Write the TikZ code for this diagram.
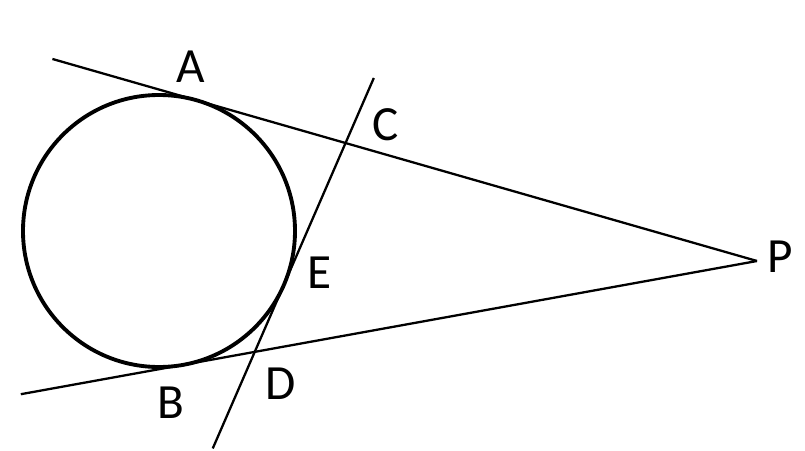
\documentclass[tikz,border=0pt]{standalone}
\usepackage{fontspec}
\setmainfont{Carlito}
\usetikzlibrary{calc}

\begin{document}
\begin{tikzpicture}[lbl/.style={font=\fontsize{14}{16}\selectfont, inner sep=0pt}]
 \useasboundingbox (0,0) rectangle (8.05,-4.5);

 \node[circle, draw, line width=1.1pt, minimum size=2.72cm, inner sep=0pt, outer sep=0pt] (c) at (1.59,-2.31) {};
 \coordinate (P) at (7.57,-2.61);

 \coordinate (A) at (tangent cs:node=c,point={(P)},solution=1);
 \coordinate (B) at (tangent cs:node=c,point={(P)},solution=2);
 \coordinate (E) at ($(c.center)+(-23.5:1.36)$);

 \coordinate (Aend) at ($(P)!1.257!(A)$);
 \coordinate (Bend) at ($(P)!1.283!(B)$);
 \coordinate (Ctop) at ($(E)+(66.5:2.26)$);
 \coordinate (Dbot) at ($(E)+(246.5:1.78)$);

 \draw[line width=0.65pt] (P)--(Aend);
 \draw[line width=0.65pt] (P)--(Bend);
 \draw[line width=0.65pt] (Ctop)--(Dbot);

 \node[lbl] (lA) at (1.91,-0.67) {A};
 \node[lbl] (lB) at (1.71,-4.03) {B};
 \node[lbl] (lC) at (3.86,-1.25) {C};
 \node[lbl] (lD) at (2.81,-3.84) {D};
 \node[lbl] (lE) at (3.20,-2.73) {E};
 \node[lbl] (lP) at (7.80,-2.57) {P};
\end{tikzpicture}
\end{document}
